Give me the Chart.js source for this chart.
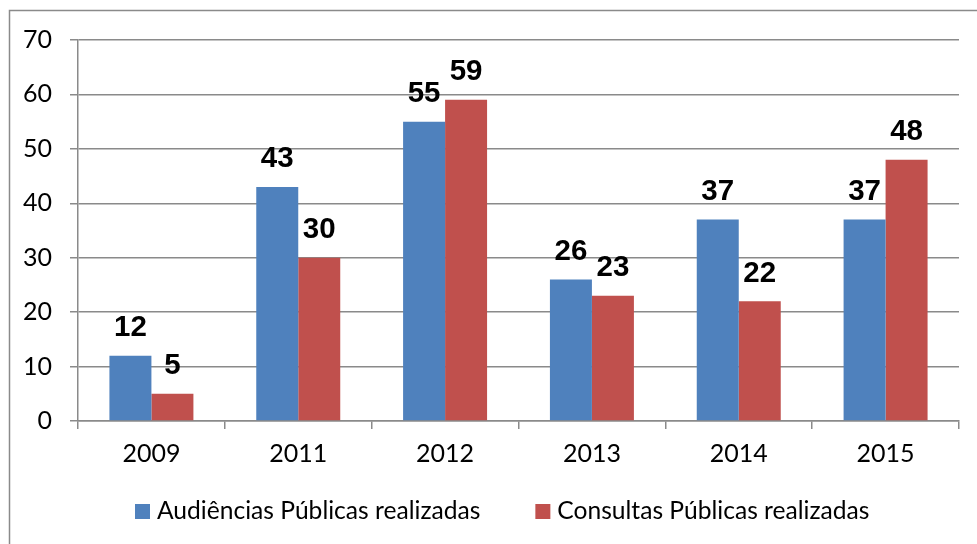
<!DOCTYPE html>
<html>
<head>
<meta charset="utf-8">
<script src="https://cdn.jsdelivr.net/npm/chart.js@4/dist/chart.umd.min.js"></script>
<style>
  html, body { margin: 0; padding: 0; background: #fff; }
  #wrap { position: relative; width: 977px; height: 544px; }
</style>
</head>
<body>
<div id="wrap"><canvas id="c" width="977" height="544"></canvas></div>
<script>
const categories = ['2009', '2011', '2012', '2013', '2014', '2015'];
const audiencias = [12, 43, 55, 26, 37, 37];
const consultas = [5, 30, 59, 23, 22, 48];
const seriesNames = ['Audiências Públicas realizadas', 'Consultas Públicas realizadas'];
const yTicks = [0, 10, 20, 30, 40, 50, 60, 70];

const BLUE = '#4F81BD';
const RED = '#C0504D';
const GRID = '#8a8a8a';
const FONT = 'Lato';

const frame = {
  id: 'frame',
  beforeDraw(chart) {
    const ctx = chart.ctx;
    ctx.save();
    ctx.fillStyle = '#fff';
    ctx.fillRect(0, 0, chart.width, chart.height);
    ctx.strokeStyle = GRID;
    ctx.lineWidth = 1.5;
    ctx.strokeRect(9.5, 10.5, chart.width + 20, chart.height + 20);
    ctx.restore();
  }
};

const valueLabels = {
  id: 'valueLabels',
  afterDatasetsDraw(chart) {
    const ctx = chart.ctx;
    ctx.save();
    ctx.font = 'bold 29.5px "Liberation Sans", Arial, sans-serif';
    ctx.fillStyle = '#000';
    ctx.textAlign = 'center';
    ctx.textBaseline = 'alphabetic';
    chart.data.datasets.forEach((ds, i) => {
      chart.getDatasetMeta(i).data.forEach((bar, j) => {
        ctx.fillText(String(ds.data[j]), bar.x, bar.y - 19.5);
      });
    });
    ctx.restore();
  }
};

const customLegend = {
  id: 'customLegend',
  afterDraw(chart) {
    const ctx = chart.ctx;
    ctx.save();
    ctx.font = '24.6px ' + FONT;
    ctx.fillStyle = '#000';
    ctx.textBaseline = 'middle';
    ctx.textAlign = 'left';
    let x = 135;
    const cy = 511.5;
    const colors = [BLUE, RED];
    seriesNames.forEach((name, i) => {
      ctx.fillStyle = colors[i];
      ctx.fillRect(x, cy - 7.5, 15, 15);
      ctx.fillStyle = '#000';
      ctx.fillText(name, x + 22, cy);
      x += 22 + ctx.measureText(name).width + 55;
    });
    ctx.restore();
  }
};

new Chart(document.getElementById('c'), {
  type: 'bar',
  data: {
    labels: categories,
    datasets: [
      { label: seriesNames[0], data: audiencias, backgroundColor: BLUE, borderWidth: 0 },
      { label: seriesNames[1], data: consultas, backgroundColor: RED, borderWidth: 0 }
    ]
  },
  options: {
    responsive: false,
    animation: false,
    devicePixelRatio: 1,
    layout: { padding: { top: 40, right: 18, bottom: 0, left: 0 } },
    datasets: { bar: { categoryPercentage: 0.572, barPercentage: 1.0 } },
    plugins: { legend: { display: false }, tooltip: { enabled: false } },
    scales: {
      x: {
        grid: { display: true, drawOnChartArea: false, drawTicks: true, tickLength: 8, color: GRID, lineWidth: 1.5, offset: true },
        border: { display: true, color: GRID, width: 1.5 },
        ticks: { color: '#000', font: { family: FONT, size: 25 }, padding: 10, maxRotation: 0 },
        afterFit(scale) { scale.height = 123; }
      },
      y: {
        min: 0, max: 70,
        afterBuildTicks(scale) { scale.ticks = yTicks.map(v => ({ value: v })); },
        grid: { color: GRID, lineWidth: 1.5, tickLength: 8, drawTicks: true },
        border: { display: true, color: GRID, width: 1.5 },
        ticks: { color: '#000', font: { family: FONT, size: 25 }, padding: 18 },
        afterFit(scale) { scale.width = 78; }
      }
    }
  },
  plugins: [frame, valueLabels, customLegend]
});
</script>
</body>
</html>
